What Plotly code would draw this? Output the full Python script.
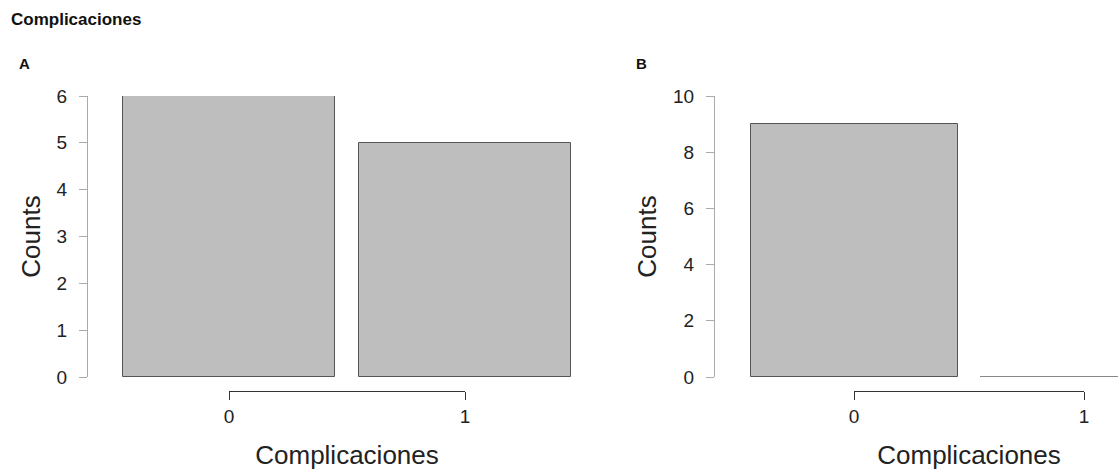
import plotly.graph_objects as go

# ---- data ----
categories = ["0", "1"]
counts_A = [6, 5]
counts_B = [9, 0]
yticks_A = [0, 1, 2, 3, 4, 5, 6]
yticks_B = [0, 2, 4, 6, 8, 10]
main_title = "Complicaciones"
panel_labels = ["A", "B"]
x_title = "Complicaciones"
y_title = "Counts"

W, H = 1118, 470
FONT = "Liberation Sans"
BAR_FILL = "#bebebe"
BAR_LINE = "#555555"
AX_GRAY = "#aaaaaa"
AX_DARK = "#333333"
TXT = "#222222"
BAR_W = 0.9
TICK_SIZE = 19
TITLE_SIZE = 26

xs = [float(c) for c in categories]

def px(xp):
    return xp / W

def py(yp):
    return 1 - yp / H

fig = go.Figure()

panels = [
    dict(counts=counts_A, yticks=yticks_A, ax_left=88, c0=229, c1=465, right=600),
    dict(counts=counts_B, yticks=yticks_B, ax_left=715, c0=854, c1=1084, right=1118),
]

y_top, y_bot = 96, 377
for i, p in enumerate(panels):
    sfx = "" if i == 0 else "2"
    xa, ya = "x" + sfx, "y" + sfx
    xsec = "x3" if i == 0 else "x4"
    fig.add_trace(go.Bar(
        x=xs, y=p["counts"], width=BAR_W,
        marker=dict(color=BAR_FILL, line=dict(color=BAR_LINE, width=1)),
        xaxis=xa, yaxis=ya, showlegend=False, cliponaxis=False,
        hoverinfo="x+y",
    ))
    # zero-height bars drawn as a flat outline
    for xv, v in zip(xs, p["counts"]):
        if v == 0:
            fig.add_trace(go.Scatter(
                x=[xv - BAR_W / 2, xv + BAR_W / 2], y=[v, v], mode="lines",
                line=dict(color="#9a9a9a", width=1.5),
                xaxis=xa, yaxis=ya, showlegend=False, cliponaxis=True,
                hoverinfo="skip",
            ))
    # invisible trace so the category (bracket) axis gets drawn
    fig.add_trace(go.Scatter(
        x=xs, y=[0] * len(xs), mode="markers", marker=dict(opacity=0),
        xaxis=xsec, yaxis=ya, showlegend=False, hoverinfo="skip",
    ))
    ppu = (p["c1"] - p["c0"])
    r0 = (p["ax_left"] - p["c0"]) / ppu
    r1 = (p["right"] - p["c0"]) / ppu
    ymax = max(p["yticks"])
    fig.layout["xaxis" + sfx] = dict(
        domain=[px(p["ax_left"]), min(1.0, px(p["right"]))], range=[r0, r1],
        showline=False, showticklabels=False, ticks="", showgrid=False,
        zeroline=False, anchor=ya, automargin=False,
    )
    fig.layout["yaxis" + sfx] = dict(
        domain=[py(y_bot), py(y_top)], range=[0, ymax],
        tickvals=p["yticks"], ticks="outside", ticklen=8, tickcolor=AX_GRAY,
        tickwidth=1, showline=True, linecolor=AX_GRAY, linewidth=1,
        showgrid=False, zeroline=False, anchor=xa, automargin=False,
        tickfont=dict(family=FONT, size=TICK_SIZE, color=TXT), ticklabelstandoff=8,
        title=dict(text=y_title, font=dict(family=FONT, size=TITLE_SIZE, color=TXT), standoff=8),
    )
    sec = "xaxis" + ("3" if i == 0 else "4")
    fig.layout[sec] = dict(
        domain=[px(p["c0"]), px(p["c1"])], range=[xs[0], xs[-1]],
        tickvals=xs, ticktext=categories, ticks="outside", ticklen=8,
        tickcolor=AX_DARK, tickwidth=1, showline=True, linecolor=AX_DARK,
        linewidth=1, showgrid=False, zeroline=False, automargin=False,
        anchor="free", position=py(391), side="bottom",
        tickfont=dict(family=FONT, size=TICK_SIZE, color=TXT), ticklabelstandoff=0,
        title=dict(text=x_title, font=dict(family=FONT, size=TITLE_SIZE, color=TXT), standoff=20),
    )

annotations = [
    dict(text="<b>" + main_title + "</b>", x=px(9), y=py(19), xref="paper", yref="paper",
         xanchor="left", yanchor="middle", showarrow=False,
         font=dict(family=FONT, size=17, color="#111111")),
    dict(text="<b>" + panel_labels[0] + "</b>", x=px(17), y=py(64), xref="paper", yref="paper",
         xanchor="left", yanchor="middle", showarrow=False,
         font=dict(family=FONT, size=15, color="#111111")),
    dict(text="<b>" + panel_labels[1] + "</b>", x=px(634), y=py(64), xref="paper", yref="paper",
         xanchor="left", yanchor="middle", showarrow=False,
         font=dict(family=FONT, size=15, color="#111111")),
]

fig.update_layout(
    width=W, height=H, margin=dict(l=0, r=0, t=0, b=0),
    paper_bgcolor="white", plot_bgcolor="rgba(0,0,0,0)",
    annotations=annotations, bargap=0,
    font=dict(family=FONT),
)

fig.write_html("out.html", config={"displayModeBar": False},
               post_script="document.body.style.margin='0';document.body.style.overflow='hidden';")
